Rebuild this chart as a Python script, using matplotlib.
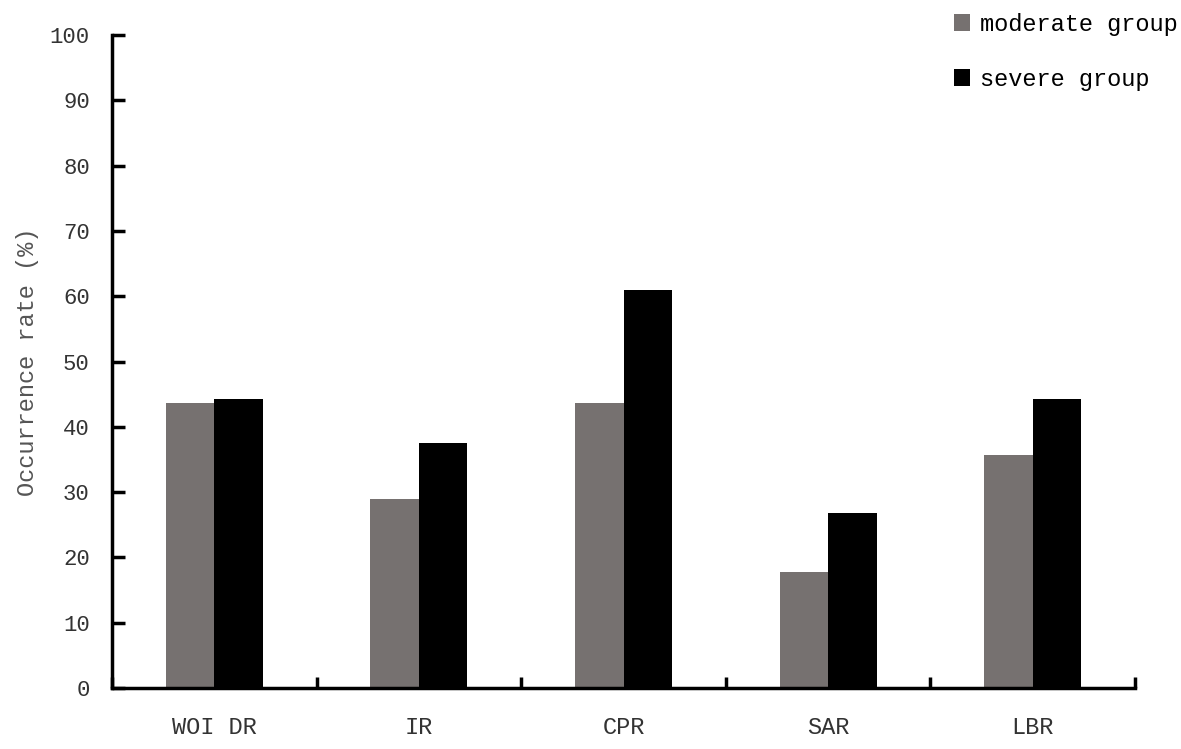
import matplotlib.pyplot as plt
import numpy as np

categories = ["WOI DR", "IR", "CPR", "SAR", "LBR"]
moderate = [43.6, 28.9, 43.6, 17.8, 35.7]
severe = [44.3, 37.5, 61.0, 26.8, 44.3]

FONT = "Liberation Mono"
GREY = "#767170"

fig = plt.figure(figsize=(11.81, 7.49), dpi=100)
ax = fig.add_axes([112 / 1181, 61 / 749, 1023 / 1181, 653 / 749])

x = np.arange(len(categories)) + 0.5
w = 0.237
ax.bar(x - w / 2, moderate, w, color=GREY, label="moderate group")
ax.bar(x + w / 2, severe, w, color="black", label="severe group")

ax.set_xlim(0, len(categories))
ax.set_ylim(0, 100)
ax.set_yticks(np.arange(0, 101, 10))
ax.set_xticks(np.arange(0, len(categories) + 1))
ax.set_xticklabels([])
ax.set_xticks(x, minor=True)
ax.set_xticklabels(categories, minor=True, fontfamily=FONT, fontsize=17, color="#333333")
ax.tick_params(axis="x", which="minor", length=0, pad=20)
ax.tick_params(axis="x", which="major", direction="in", length=8, width=2.5)
ax.tick_params(axis="y", direction="in", length=9, width=2.5, pad=16)
for lab in ax.get_yticklabels():
    lab.set_fontfamily(FONT)
    lab.set_fontsize(16)
    lab.set_color("#333333")

for s in ["top", "right"]:
    ax.spines[s].set_visible(False)
for s in ["left", "bottom"]:
    ax.spines[s].set_linewidth(2.5)

ax.set_ylabel("Occurrence rate (%)", fontfamily=FONT, fontsize=17, color="#555555", labelpad=8)

fig.legend(loc="upper right", bbox_to_anchor=(1.011, 1.005), frameon=False,
           prop={"family": FONT, "size": 17}, labelspacing=1.35,
           handlelength=0.7, handleheight=0.7, handletextpad=0.4, borderpad=0.2)

fig.savefig("out.png", dpi=100)
